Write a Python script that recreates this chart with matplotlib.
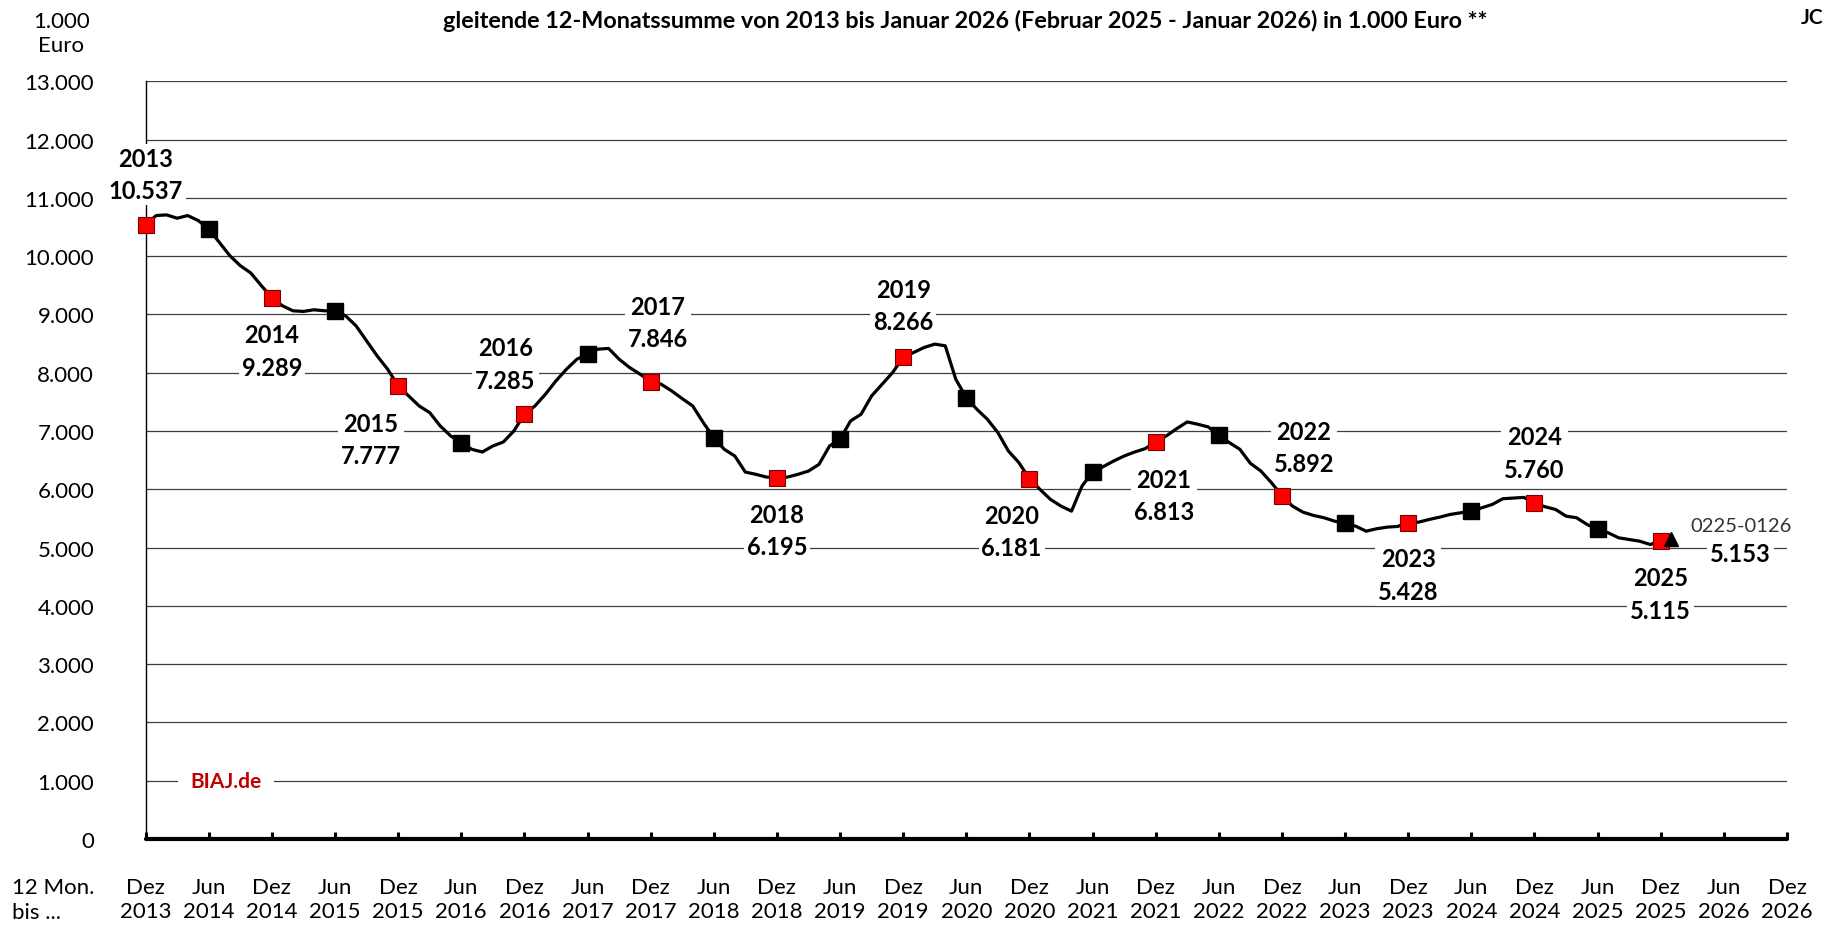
import matplotlib
matplotlib.use("Agg")
import matplotlib.pyplot as plt
import numpy as np

plt.rcParams['font.family'] = ['Lato', 'DejaVu Sans']

# gleitende 12-Monatssumme in 1.000 Euro, Dez 2013 .. Jan 2026 (monthly)
w2013 = [10537]
w2014 = [10697, 10708, 10651, 10697, 10611, 10467, 10238, 10009, 9837, 9711, 9494, 9289]
w2015 = [9149, 9063, 9052, 9080, 9063, 9063, 8977, 8805, 8548, 8290, 8061, 7777]
w2016 = [7602, 7430, 7316, 7087, 6915, 6800, 6686, 6640, 6743, 6812, 7001, 7285]
w2017 = [7430, 7631, 7860, 8061, 8233, 8319, 8405, 8417, 8233, 8089, 7975, 7846]
w2018 = [7803, 7688, 7556, 7430, 7145, 6887, 6686, 6571, 6296, 6257, 6210, 6195]
w2019 = [6210, 6257, 6313, 6428, 6743, 6858, 7173, 7288, 7602, 7803, 8004, 8266]
w2020 = [8348, 8434, 8491, 8462, 7889, 7573, 7374, 7202, 6973, 6657, 6458, 6181]
w2021 = [5999, 5827, 5712, 5626, 6056, 6296, 6388, 6485, 6571, 6640, 6698, 6813]
w2022 = [6915, 7041, 7156, 7116, 7070, 6927, 6801, 6686, 6446, 6313, 6114, 5892]
w2023 = [5712, 5608, 5552, 5512, 5454, 5414, 5368, 5282, 5323, 5351, 5363, 5428]
w2024 = [5437, 5483, 5523, 5569, 5598, 5626, 5684, 5741, 5839, 5850, 5861, 5760]
w2025 = [5701, 5655, 5540, 5512, 5397, 5311, 5254, 5168, 5139, 5110, 5053, 5115]
w2026 = [5153]

years = list(range(2013, 2026))
tick_labels = []
for y in range(2013, 2027):
    if y > 2013:
        tick_labels.append(f"Jun\n{y}")
    tick_labels.append(f"Dez\n{y}")

werte = np.array(w2013 + w2014 + w2015 + w2016 + w2017 + w2018 + w2019 + w2020
                 + w2021 + w2022 + w2023 + w2024 + w2025 + w2026)
monate = np.arange(len(werte))  # 0 = Dez 2013


def de(v):
    return f"{int(v):,}".replace(",", ".")


# label placement (month position, y centre) for each December
label_pos = [(0, 11400), (12, 8373), (21.4, 6854), (34.2, 8150), (48.7, 8865),
             (60, 5295), (72, 9150), (82.3, 5275), (96.8, 5890), (110.1, 6714),
             (120, 4526), (132, 6623), (144, 4203)]

fig = plt.figure(figsize=(18.27, 9.28), dpi=100)
ax = fig.add_axes([0.0797, 0.0948, 0.8984, 0.8165])

ax.set_xlim(0, 156)
ax.set_ylim(0, 13000)
ax.set_yticks(np.arange(0, 13001, 1000))
ax.set_yticklabels([de(v) for v in np.arange(0, 13001, 1000)], fontsize=16)
ax.set_xticks(np.arange(0, 157, 6))
ax.set_xticklabels(tick_labels, fontsize=16, linespacing=1.25)
ax.tick_params(axis='y', length=0, pad=37)
ax.tick_params(axis='x', direction='in', length=5, width=2.2, pad=27)

ax.yaxis.grid(True, color='#404040', lw=0.9)
ax.set_axisbelow(True)
for s in ['top', 'right']:
    ax.spines[s].set_visible(False)
ax.spines['left'].set_linewidth(1.0)
ax.spines['bottom'].set_linewidth(3)
ax.spines['bottom'].set_capstyle('round')

ax.plot(monate, werte, color='black', lw=2.3, zorder=4, clip_on=False)

dez = monate[::12]
jun = monate[6::12]
ax.plot(dez, werte[dez], 's', ms=12, mfc='#ff0000', mec='#7a0000', mew=0.8,
        zorder=5, clip_on=False)
ax.plot(jun, werte[jun], 's', ms=12, mfc='black', mec='black', zorder=5)
ax.plot(monate[-1], werte[-1], '^', ms=10, color='black', zorder=6)

box = dict(facecolor='white', edgecolor='none', pad=2)
for yr, (xp, yp) in zip(years, label_pos):
    v = werte[(yr - 2013) * 12]
    ax.text(xp, yp, f"{yr}\n{de(v)}", ha='center', va='center', fontsize=17,
            fontweight='bold', linespacing=1.5, bbox=box, zorder=3)

ax.text(151.6, 5387, "0225-0126", ha='center', va='center', fontsize=14.5,
        color='#333333', bbox=box, zorder=3)
ax.text(151.6, 4907, de(werte[-1]), ha='center', va='center', fontsize=17,
        fontweight='bold', bbox=box, zorder=3)

ax.text(7.66, 1000, "BIAJ.de", ha='center', va='center', fontsize=15,
        fontweight='bold', color='#c00000',
        bbox=dict(facecolor='white', edgecolor='none', pad=9), zorder=3)

fig.text(0.5283, 0.9774, "gleitende 12-Monatssumme von 2013 bis Januar 2026 "
         "(Februar 2025 - Januar 2026) in 1.000 Euro **", ha='center', va='center',
         fontsize=16.8, fontweight='bold')
fig.text(0.9918, 0.9806, "JC", ha='center', va='center', fontsize=15,
         fontweight='bold')
fig.text(0.0335, 0.9633, "1.000\nEuro", ha='center', va='center', fontsize=16,
         linespacing=1.3)
fig.text(0.0066, 0.0300, "12 Mon.\nbis ...", ha='left', va='center', fontsize=16,
         linespacing=1.3)

fig.savefig("out.png", dpi=100)
